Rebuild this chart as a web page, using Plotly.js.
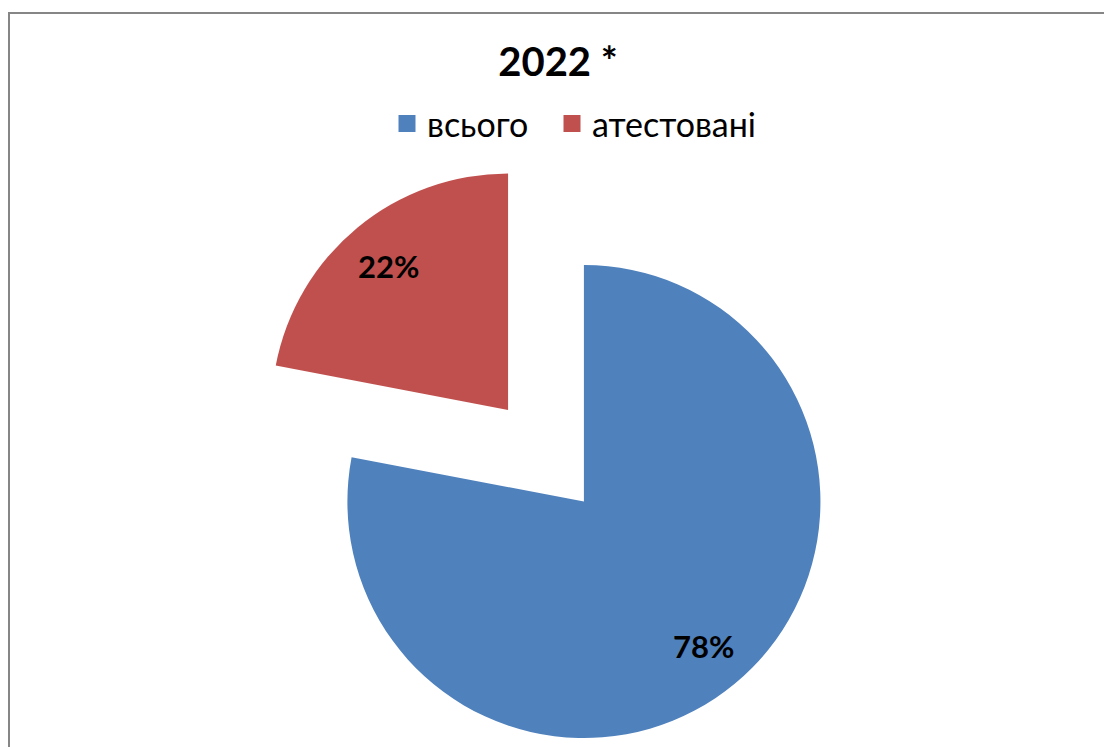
<!DOCTYPE html>
<html>
<head>
<meta charset="utf-8">
<script src="https://cdn.plot.ly/plotly-3.0.1.min.js"></script>
<style>
  html, body { margin: 0; padding: 0; background: #ffffff; overflow: hidden; }
  #wrap { width: 1104px; height: 747px; overflow: hidden; position: relative; }
  #chart { width: 1104px; height: 780px; }
</style>
</head>
<body>
<div id="wrap"><div id="chart"></div></div>
<script>
// ---- data ----
const titleText = '2022 *';
const categories = ['всього', 'атестовані'];
const values = [78, 22];
const sliceColors = ['#4F81BD', '#C0504D'];
const pulls = [0.2515, 0.2515];

// ---- layout constants ----
const W = 1104, H = 780;
const FONT = 'Lato, Carlito, Calibri, "Open Sans", sans-serif';
const dom = { x: [250 / W, 842 / W], y: [1 - 751.75 / H, 1 - 159.75 / H] };

// label annotations computed from the data (clockwise from 12 o'clock)
const rx = W * (dom.x[1] - dom.x[0]) / 2;
const ry = H * (dom.y[1] - dom.y[0]) / 2;
const maxPull = Math.max(...pulls);
const r = Math.min(rx, ry) / (1 + maxPull);
const cx = W * (dom.x[0] + dom.x[1]) / 2;
const cy = H * (1 - (dom.y[0] + dom.y[1]) / 2);
const total = values.reduce((a, b) => a + b, 0);
let cum = 0;
const annotations = values.map((v, i) => {
  const mid = (cum + v / 2) / total * 2 * Math.PI;
  cum += v;
  const dx = Math.sin(mid), dy = -Math.cos(mid);
  const dist = pulls[i] * r + 0.79 * r;
  const px = cx + dist * dx, py = cy + dist * dy;
  return {
    x: px / W, y: 1 - py / H, xref: 'paper', yref: 'paper',
    text: '<b>' + Math.round(v / total * 100) + '%</b>',
    showarrow: false, xanchor: 'center', yanchor: 'middle',
    font: { family: FONT, size: 31, color: '#000000' }
  };
});

// main pie (no legend entries of its own)
const mainPie = {
  type: 'pie',
  labels: categories,
  values: values,
  sort: false,
  direction: 'clockwise',
  rotation: 0,
  pull: pulls,
  marker: { colors: sliceColors, line: { width: 0 } },
  textinfo: 'none',
  hoverinfo: 'label+percent',
  showlegend: false,
  domain: dom
};

// legend carriers: one tiny pie per category, placed in the clipped strip below the view,
// each feeding its own legend so the two legend entries can be spaced like the original
const legendPies = categories.map((c, i) => ({
  type: 'pie',
  labels: [c],
  values: [values[i]],
  sort: false,
  marker: { colors: [sliceColors[i]], line: { color: sliceColors[i], width: 5 } },
  textinfo: 'none',
  hoverinfo: 'skip',
  showlegend: true,
  legend: i === 0 ? 'legend' : 'legend2',
  domain: { x: [0.90 + 0.05 * i, 0.94 + 0.05 * i], y: [0, 0.012] }
}));

const legendFont = { family: FONT, size: 34, color: '#000000' };
const legendBase = {
  orientation: 'h', xanchor: 'left',
  y: 1 - 124 / H, yanchor: 'middle',
  font: legendFont, bgcolor: 'rgba(0,0,0,0)', borderwidth: 0
};

const layout = {
  width: W, height: H,
  margin: { l: 0, r: 0, t: 0, b: 0, pad: 0 },
  paper_bgcolor: '#ffffff',
  plot_bgcolor: '#ffffff',
  title: {
    text: '<b>' + titleText + '</b>',
    font: { family: FONT, size: 40, color: '#000000' },
    x: 558 / W, xanchor: 'center', xref: 'paper',
    y: 1 - 62 / H, yanchor: 'middle', yref: 'container'
  },
  legend: Object.assign({}, legendBase, { x: 387 / W }),
  legend2: Object.assign({}, legendBase, { x: 552 / W }),
  annotations: annotations,
  shapes: [{
    type: 'rect', xref: 'paper', yref: 'paper',
    x0: 9 / W, x1: 1.05, y0: -0.05, y1: 1 - 13 / H,
    line: { color: '#868686', width: 2 }, fillcolor: 'rgba(0,0,0,0)'
  }]
};

Plotly.newPlot('chart', [mainPie].concat(legendPies), layout, { displayModeBar: false });
</script>
</body>
</html>
